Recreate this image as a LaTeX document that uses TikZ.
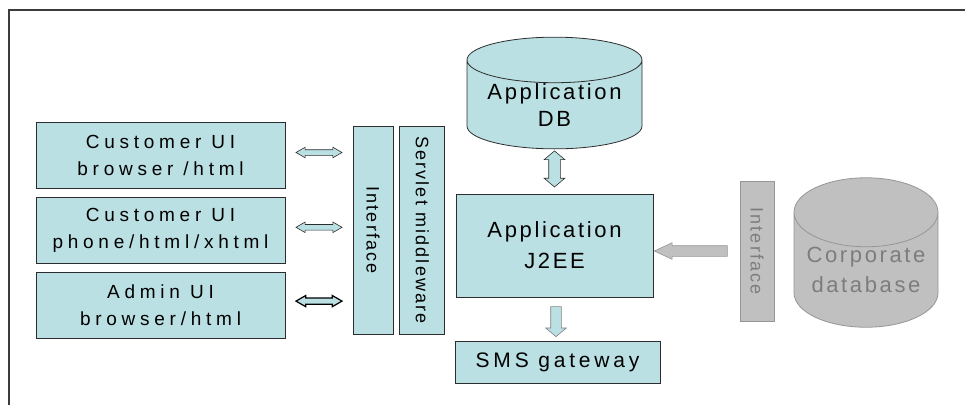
\documentclass[tikz,border=0pt]{standalone}
\usepackage{fontspec}
\usepackage{graphicx}
\setmainfont{Liberation Sans}
\newfontfamily\boxfont{Liberation Sans}[LetterSpace=25]
\newfontfamily\bigfont{Liberation Sans}[LetterSpace=12]
\newfontfamily\barfont{Liberation Sans}[LetterSpace=12]
\usetikzlibrary{positioning, calc, shapes.geometric, shapes.arrows}

\definecolor{boxcyan}{RGB}{187,224,227}
\definecolor{boxline}{RGB}{45,45,45}
\definecolor{corpfill}{RGB}{192,192,192}
\definecolor{corpline}{RGB}{150,150,150}
\definecolor{corptext}{RGB}{125,125,125}
\definecolor{framecol}{RGB}{60,60,60}

\begin{document}
\begin{tikzpicture}[x=1pt, y=1pt]
			\tikzset {node distance=8pt,
				uibox/.style={draw=boxline, fill=boxcyan, line width=0.8pt, minimum width=249pt, minimum height=66pt, inner sep=0pt, align=center, font=\fontsize{19}{27}\boxfont},
				barbox/.style={draw=boxline, fill=boxcyan, line width=0.8pt, minimum height=208pt, inner sep=0pt, font=\fontsize{18}{22}\barfont},
				appbox/.style={draw=boxline, fill=boxcyan, line width=0.8pt, inner sep=0pt, align=center, font=\fontsize{22}{31}\bigfont},
				dbcyl/.style={cylinder, shape border rotate=90, anchor=shape center, draw=boxline, fill=boxcyan, line width=0.8pt, inner sep=0pt, align=center},
				corpcyl/.style={dbcyl, draw=corpline, fill=corpfill, text=corptext},
				dblarrow/.style={double arrow, draw=boxline, fill=boxcyan, line width=0.6pt, inner sep=2.5pt, minimum height=46pt, double arrow head extend=2.5pt, double arrow tip angle=60},
				downarrow/.style={single arrow, draw=boxline!60, fill=boxcyan, line width=0.6pt, inner sep=5pt, minimum height=30pt, single arrow head extend=5pt, single arrow tip angle=100, shape border rotate=270},
				grayarrow/.style={single arrow, draw=corpline, fill=corpfill, line width=0.6pt, inner sep=5pt, minimum height=73pt, single arrow head extend=3pt, single arrow tip angle=50, shape border rotate=180}
			}
			\useasboundingbox (0,0) rectangle (965,-405);
			\draw[framecol, line width=1.5pt] (9,-405) -- (9,-10) -- (965,-10);
			
			% user interfaces
			\node[uibox] (cub) at (160.5,-155.5) {Customer UI\\browser /html};
			\node[uibox, below=of cub] (cph) {Customer UI\\phone/html/xhtml};
			\node[uibox, below=of cph] (adm) {Admin UI\\browser/html};
			
			% middleware
			\node[barbox, minimum width=40pt] (intf) at (373,-230) {\rotatebox{-90}{Interface}};
			\node[barbox, minimum width=45pt, right=6pt of intf] (srv) {\rotatebox{-90}{Servlet middleware}};
			
			% application
			\node[dbcyl, minimum width=175pt, minimum height=90pt, shape aspect=0.34, font=\fontsize{22}{27}\bigfont] (appdb) at (554.5,-93) {Application\\DB};
			\node[appbox, minimum width=197pt, minimum height=103pt] (j2ee) at (554.5,-245.5) {Application\\J2EE};
			\node[appbox, minimum width=205pt, minimum height=42pt, below=44pt of j2ee, xshift=3pt, font=\fontsize{21}{25}\bigfont\addfontfeature{LetterSpace=18}] (sms) {SMS gateway};
			
			% corporate side
			\node[barbox, draw=corpline, fill=corpfill, text=corptext, minimum width=34pt, minimum height=140pt] (gintf) at (757,-251) {\rotatebox{-90}{Interface}};
			\node[corpcyl, minimum width=144pt, minimum height=129pt, shape aspect=0.58, font=\fontsize{22}{30}\bigfont] (corp) at (866,-252.5) {Corporate\\database};
			
			% arrows
			\node[dblarrow, yshift=3pt] (a1) at ($(cub.east)!0.5!(cub.east -| intf.west)$) {};
			\node[dblarrow, yshift=3pt] (a2) at ($(cph.east)!0.5!(cph.east -| intf.west)$) {};
			\node[dblarrow, yshift=4pt, draw=black, line width=1.2pt] (a3) at ($(adm.east)!0.5!(adm.east -| intf.west)$) {};
			\node[dblarrow, inner sep=5.5pt, minimum height=36pt, double arrow head extend=4.5pt, double arrow tip angle=100, shape border rotate=90, yshift=2.5pt] (a4) at ($(appdb.south)!0.5!(j2ee.north)$) {};
			\node[downarrow] (a5) at ($(j2ee.south)!0.5!(sms.north)$) {};
			\node[grayarrow] (a6) at ($(j2ee.east |- gintf.west)!0.5!(gintf.west)$) {};
		\end{tikzpicture}
\end{document}
